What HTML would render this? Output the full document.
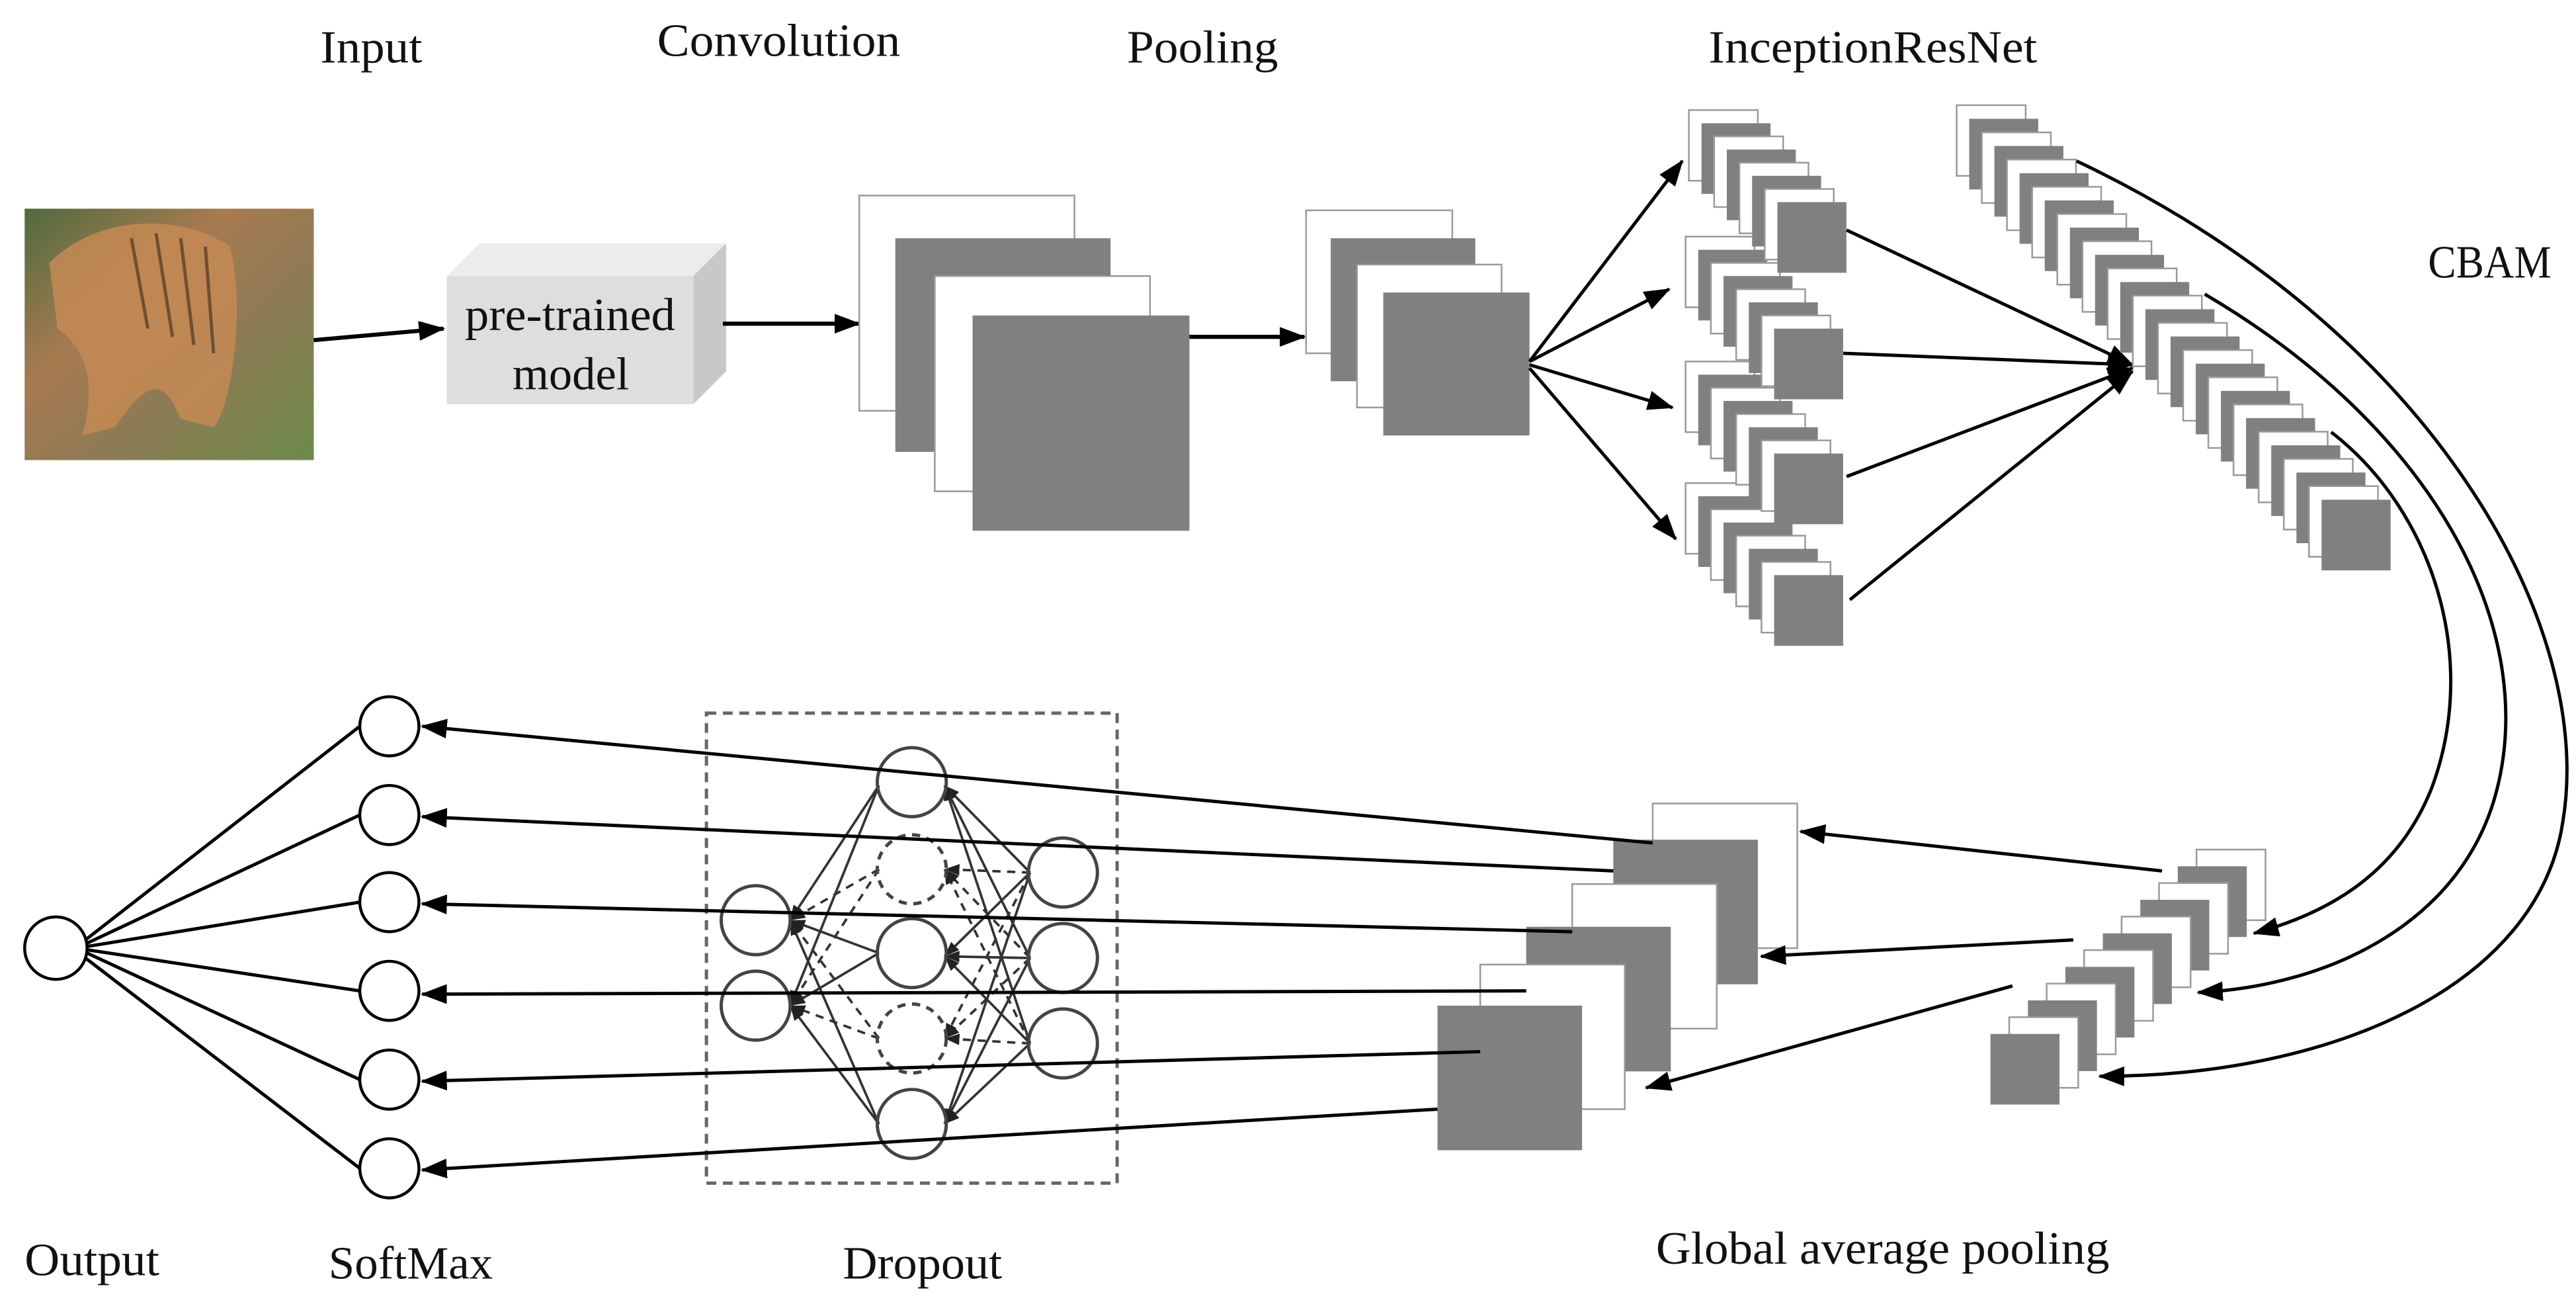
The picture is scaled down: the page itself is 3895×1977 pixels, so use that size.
<!DOCTYPE html>
<html><head><meta charset="utf-8"><style>
html,body{margin:0;padding:0;background:#fff;}
svg{display:block;}
text{font-family:"Liberation Serif",serif;fill:#111;}
</style></head><body>
<svg width="3895" height="1977" viewBox="0 0 1568 796" preserveAspectRatio="none" xmlns="http://www.w3.org/2000/svg">
<defs>
<marker id="ah" markerUnits="userSpaceOnUse" markerWidth="16" markerHeight="12" refX="15" refY="6" orient="auto"><path d="M0,0 L16,6 L0,12 z" fill="#000"/></marker>
<marker id="sh" markerUnits="userSpaceOnUse" markerWidth="9" markerHeight="7" refX="9" refY="3.5" orient="auto"><path d="M0,0 L9,3.5 L0,7 z" fill="#222"/></marker>
<linearGradient id="tg" x1="0" y1="0" x2="1" y2="1">
<stop offset="0" stop-color="#4f6b3f"/><stop offset="0.35" stop-color="#a87a50"/><stop offset="0.6" stop-color="#8f7a55"/><stop offset="1" stop-color="#6d8a4c"/></linearGradient>
<g id="inc">
<rect x="0" y="0" width="42" height="43" fill="#fff" stroke="#999"/>
<rect x="7.7" y="8" width="42" height="43" fill="#808080"/>
<rect x="15.4" y="16" width="42" height="43" fill="#fff" stroke="#999"/>
<rect x="23.1" y="24" width="42" height="43" fill="#808080"/>
<rect x="30.8" y="32" width="42" height="43" fill="#fff" stroke="#999"/>
<rect x="38.5" y="40" width="42" height="43" fill="#808080"/>
<rect x="46.2" y="48" width="42" height="43" fill="#fff" stroke="#999"/>
<rect x="53.9" y="56" width="42" height="43" fill="#808080"/>
</g>
<g id="cb">
<rect x="0" y="0" width="42" height="43" fill="#fff" stroke="#999"/>
<rect x="7.66" y="8.28" width="42" height="43" fill="#808080"/>
<rect x="15.32" y="16.56" width="42" height="43" fill="#fff" stroke="#999"/>
<rect x="22.98" y="24.84" width="42" height="43" fill="#808080"/>
<rect x="30.64" y="33.12" width="42" height="43" fill="#fff" stroke="#999"/>
<rect x="38.3" y="41.4" width="42" height="43" fill="#808080"/>
<rect x="45.96" y="49.68" width="42" height="43" fill="#fff" stroke="#999"/>
<rect x="53.62" y="57.96" width="42" height="43" fill="#808080"/>
<rect x="61.28" y="66.24" width="42" height="43" fill="#fff" stroke="#999"/>
<rect x="68.94" y="74.52" width="42" height="43" fill="#808080"/>
</g>
<g id="sm">
<rect x="0" y="0" width="42" height="43" fill="#fff" stroke="#999"/>
<rect x="-11.4" y="10.2" width="42" height="43" fill="#808080"/>
<rect x="-22.8" y="20.4" width="42" height="43" fill="#fff" stroke="#999"/>
<rect x="-34.2" y="30.6" width="42" height="43" fill="#808080"/>
<rect x="-45.6" y="40.8" width="42" height="43" fill="#fff" stroke="#999"/>
<rect x="-57" y="51" width="42" height="43" fill="#808080"/>
</g>
</defs>

<!-- titles -->
<g font-size="28" lengthAdjust="spacingAndGlyphs">
<text x="195" y="38" textLength="62" lengthAdjust="spacingAndGlyphs">Input</text>
<text x="400" y="34" textLength="148" lengthAdjust="spacingAndGlyphs">Convolution</text>
<text x="686" y="38" textLength="92" lengthAdjust="spacingAndGlyphs">Pooling</text>
<text x="1040" y="38" textLength="200" lengthAdjust="spacingAndGlyphs">InceptionResNet</text>
<text x="1478" y="169" textLength="75" lengthAdjust="spacingAndGlyphs">CBAM</text>
<text x="15" y="776" textLength="82" lengthAdjust="spacingAndGlyphs">Output</text>
<text x="200" y="778" textLength="100" lengthAdjust="spacingAndGlyphs">SoftMax</text>
<text x="513" y="778" textLength="97" lengthAdjust="spacingAndGlyphs">Dropout</text>
<text x="1008" y="769" textLength="276" lengthAdjust="spacingAndGlyphs">Global average pooling</text>
</g>

<!-- tiger -->
<rect x="15" y="127" width="176" height="153" fill="url(#tg)"/>
<path d="M30,160 C60,130 110,130 140,150 C150,190 140,250 130,260 L110,255 C100,230 90,230 70,260 L50,265 C60,230 50,210 35,200 Z" fill="#c48a55" opacity="0.85"/>
<g stroke="#3a2a1a" stroke-width="2" opacity="0.6">
<line x1="80" y1="145" x2="90" y2="200"/><line x1="95" y1="142" x2="105" y2="205"/><line x1="110" y1="145" x2="118" y2="210"/><line x1="125" y1="150" x2="130" y2="215"/>
</g>
<line x1="191" y1="207" x2="270" y2="200" stroke="#000" stroke-width="2.5" marker-end="url(#ah)"/>

<!-- pretrained box -->
<polygon points="272,168 292,148 442,148 422,168" fill="#ececec"/>
<polygon points="422,168 442,148 442,226 422,246" fill="#c8c8c8"/>
<rect x="272" y="168" width="150" height="78" fill="#dedede"/>
<text x="283" y="201" font-size="28" textLength="128" lengthAdjust="spacingAndGlyphs">pre-trained</text>
<text x="312" y="237" font-size="28" textLength="71" lengthAdjust="spacingAndGlyphs">model</text>
<line x1="440" y1="197" x2="523" y2="197" stroke="#000" stroke-width="2.5" marker-end="url(#ah)"/>

<!-- conv -->
<rect x="523" y="119" width="131" height="131" fill="#fff" stroke="#999"/>
<rect x="545" y="145" width="131" height="130" fill="#808080"/>
<rect x="569" y="168" width="131" height="131" fill="#fff" stroke="#999"/>
<rect x="592" y="192" width="132" height="131" fill="#808080"/>
<line x1="724" y1="205" x2="794" y2="205" stroke="#000" stroke-width="2.5" marker-end="url(#ah)"/>

<!-- pooling -->
<rect x="795" y="128" width="89" height="87" fill="#fff" stroke="#999"/>
<rect x="810" y="145" width="88" height="87" fill="#808080"/>
<rect x="826" y="161" width="88" height="87" fill="#fff" stroke="#999"/>
<rect x="842" y="178" width="89" height="87" fill="#808080"/>
<g stroke="#000" stroke-width="2" marker-end="url(#ah)">
<line x1="931" y1="220" x2="1024" y2="98"/>
<line x1="931" y1="220" x2="1016" y2="176"/>
<line x1="931" y1="222" x2="1018" y2="248"/>
<line x1="931" y1="224" x2="1020" y2="328"/>
</g>

<!-- inception groups -->
<use href="#inc" x="1026" y="294"/>
<use href="#inc" x="1026" y="220"/>
<use href="#inc" x="1026" y="144"/>
<use href="#inc" x="1028" y="67"/>
<g stroke="#000" stroke-width="2" marker-end="url(#ah)">
<line x1="1124" y1="140" x2="1298" y2="222"/>
<line x1="1122" y1="215" x2="1298" y2="222"/>
<line x1="1124" y1="290" x2="1298" y2="224"/>
<line x1="1126" y1="365" x2="1298" y2="226"/>
</g>

<!-- CBAM stack -->
<use href="#cb" x="1191" y="64"/>
<use href="#cb" x="1267.6" y="146.8"/>
<use href="#cb" x="1344.2" y="229.6"/>

<!-- arcs -->
<g fill="none" stroke="#000" stroke-width="2" marker-end="url(#ah)">
<path d="M1264,98 C1480,200 1580,380 1560,500 C1545,600 1420,655 1278,655"/>
<path d="M1342,179 C1480,260 1545,380 1520,480 C1500,560 1420,600 1338,604"/>
<path d="M1419,263 C1480,310 1510,400 1480,480 C1460,530 1420,555 1372,568"/>
</g>

<!-- small stack -->
<use href="#sm" x="1337" y="517"/>
<use href="#sm" x="1268.6" y="578.2"/>

<!-- GAP stack -->
<rect x="1006" y="489" width="88" height="88" fill="#fff" stroke="#999"/>
<rect x="982" y="511" width="88" height="88" fill="#808080"/>
<rect x="957" y="538" width="88" height="88" fill="#fff" stroke="#999"/>
<rect x="929" y="564" width="88" height="88" fill="#808080"/>
<rect x="901" y="587" width="88" height="88" fill="#fff" stroke="#999"/>
<rect x="875" y="612" width="88" height="88" fill="#808080"/>
<g stroke="#000" stroke-width="2" marker-end="url(#ah)">
<line x1="1316" y1="530" x2="1096" y2="506"/>
<line x1="1262" y1="572" x2="1072" y2="582"/>
<line x1="1225" y1="600" x2="1002" y2="662"/>
</g>

<!-- dropout box -->
<rect x="430" y="434" width="250" height="286" fill="none" stroke="#666" stroke-width="2" stroke-dasharray="6,4"/>
<g fill="none" stroke="#333" stroke-width="1.5">
<g marker-end="url(#sh)">
<line x1="627" y1="531" x2="575" y2="478"/>
<line x1="627" y1="531" x2="575" y2="582"/>
<line x1="627" y1="531" x2="575" y2="684"/>
<line x1="627" y1="583" x2="575" y2="478"/>
<line x1="627" y1="583" x2="575" y2="582"/>
<line x1="627" y1="583" x2="575" y2="684"/>
<line x1="627" y1="635" x2="575" y2="478"/>
<line x1="627" y1="635" x2="575" y2="582"/>
<line x1="627" y1="635" x2="575" y2="684"/>
<line x1="535" y1="478" x2="481" y2="560"/>
<line x1="535" y1="478" x2="481" y2="612"/>
<line x1="535" y1="580" x2="481" y2="560"/>
<line x1="535" y1="580" x2="481" y2="612"/>
<line x1="535" y1="684" x2="481" y2="560"/>
<line x1="535" y1="684" x2="481" y2="612"/>
</g>
<g stroke-dasharray="5,4" marker-end="url(#sh)">
<line x1="627" y1="531" x2="575" y2="529"/>
<line x1="627" y1="531" x2="575" y2="632"/>
<line x1="627" y1="583" x2="575" y2="529"/>
<line x1="627" y1="583" x2="575" y2="632"/>
<line x1="627" y1="635" x2="575" y2="529"/>
<line x1="627" y1="635" x2="575" y2="632"/>
<line x1="535" y1="529" x2="481" y2="560"/>
<line x1="535" y1="529" x2="481" y2="612"/>
<line x1="535" y1="632" x2="481" y2="560"/>
<line x1="535" y1="632" x2="481" y2="612"/>
</g>
</g>
<g fill="none" stroke="#444" stroke-width="2">
<circle cx="460" cy="560" r="21"/>
<circle cx="460" cy="612" r="21"/>
<circle cx="555" cy="476" r="21"/>
<circle cx="555" cy="580" r="21"/>
<circle cx="555" cy="684" r="21"/>
<circle cx="647" cy="531" r="21"/>
<circle cx="647" cy="583" r="21"/>
<circle cx="647" cy="635" r="21"/>
<circle cx="555" cy="529" r="21" stroke-dasharray="5,4"/>
<circle cx="555" cy="632" r="21" stroke-dasharray="5,4"/>
</g>

<!-- lines to softmax -->
<g stroke="#000" stroke-width="2" marker-end="url(#ah)">
<line x1="1006" y1="513" x2="257" y2="442"/>
<line x1="982" y1="530" x2="257" y2="497"/>
<line x1="957" y1="567" x2="257" y2="550"/>
<line x1="929" y1="603" x2="257" y2="605"/>
<line x1="901" y1="640" x2="257" y2="658"/>
<line x1="875" y1="675" x2="257" y2="712"/>
</g>

<!-- softmax & output -->
<g stroke="#000" stroke-width="2">
<line x1="52" y1="572" x2="219" y2="442"/>
<line x1="53" y1="574" x2="219" y2="496"/>
<line x1="53" y1="576" x2="219" y2="549"/>
<line x1="53" y1="578" x2="219" y2="603"/>
<line x1="53" y1="580" x2="219" y2="657"/>
<line x1="52" y1="583" x2="219" y2="711"/>
</g>
<g fill="#fff" stroke="#000" stroke-width="1.8">
<circle cx="34" cy="577" r="19"/>
<circle cx="237" cy="442" r="18"/>
<circle cx="237" cy="496" r="18"/>
<circle cx="237" cy="549" r="18"/>
<circle cx="237" cy="603" r="18"/>
<circle cx="237" cy="657" r="18"/>
<circle cx="237" cy="711" r="18"/>
</g>
</svg>
</body></html>
